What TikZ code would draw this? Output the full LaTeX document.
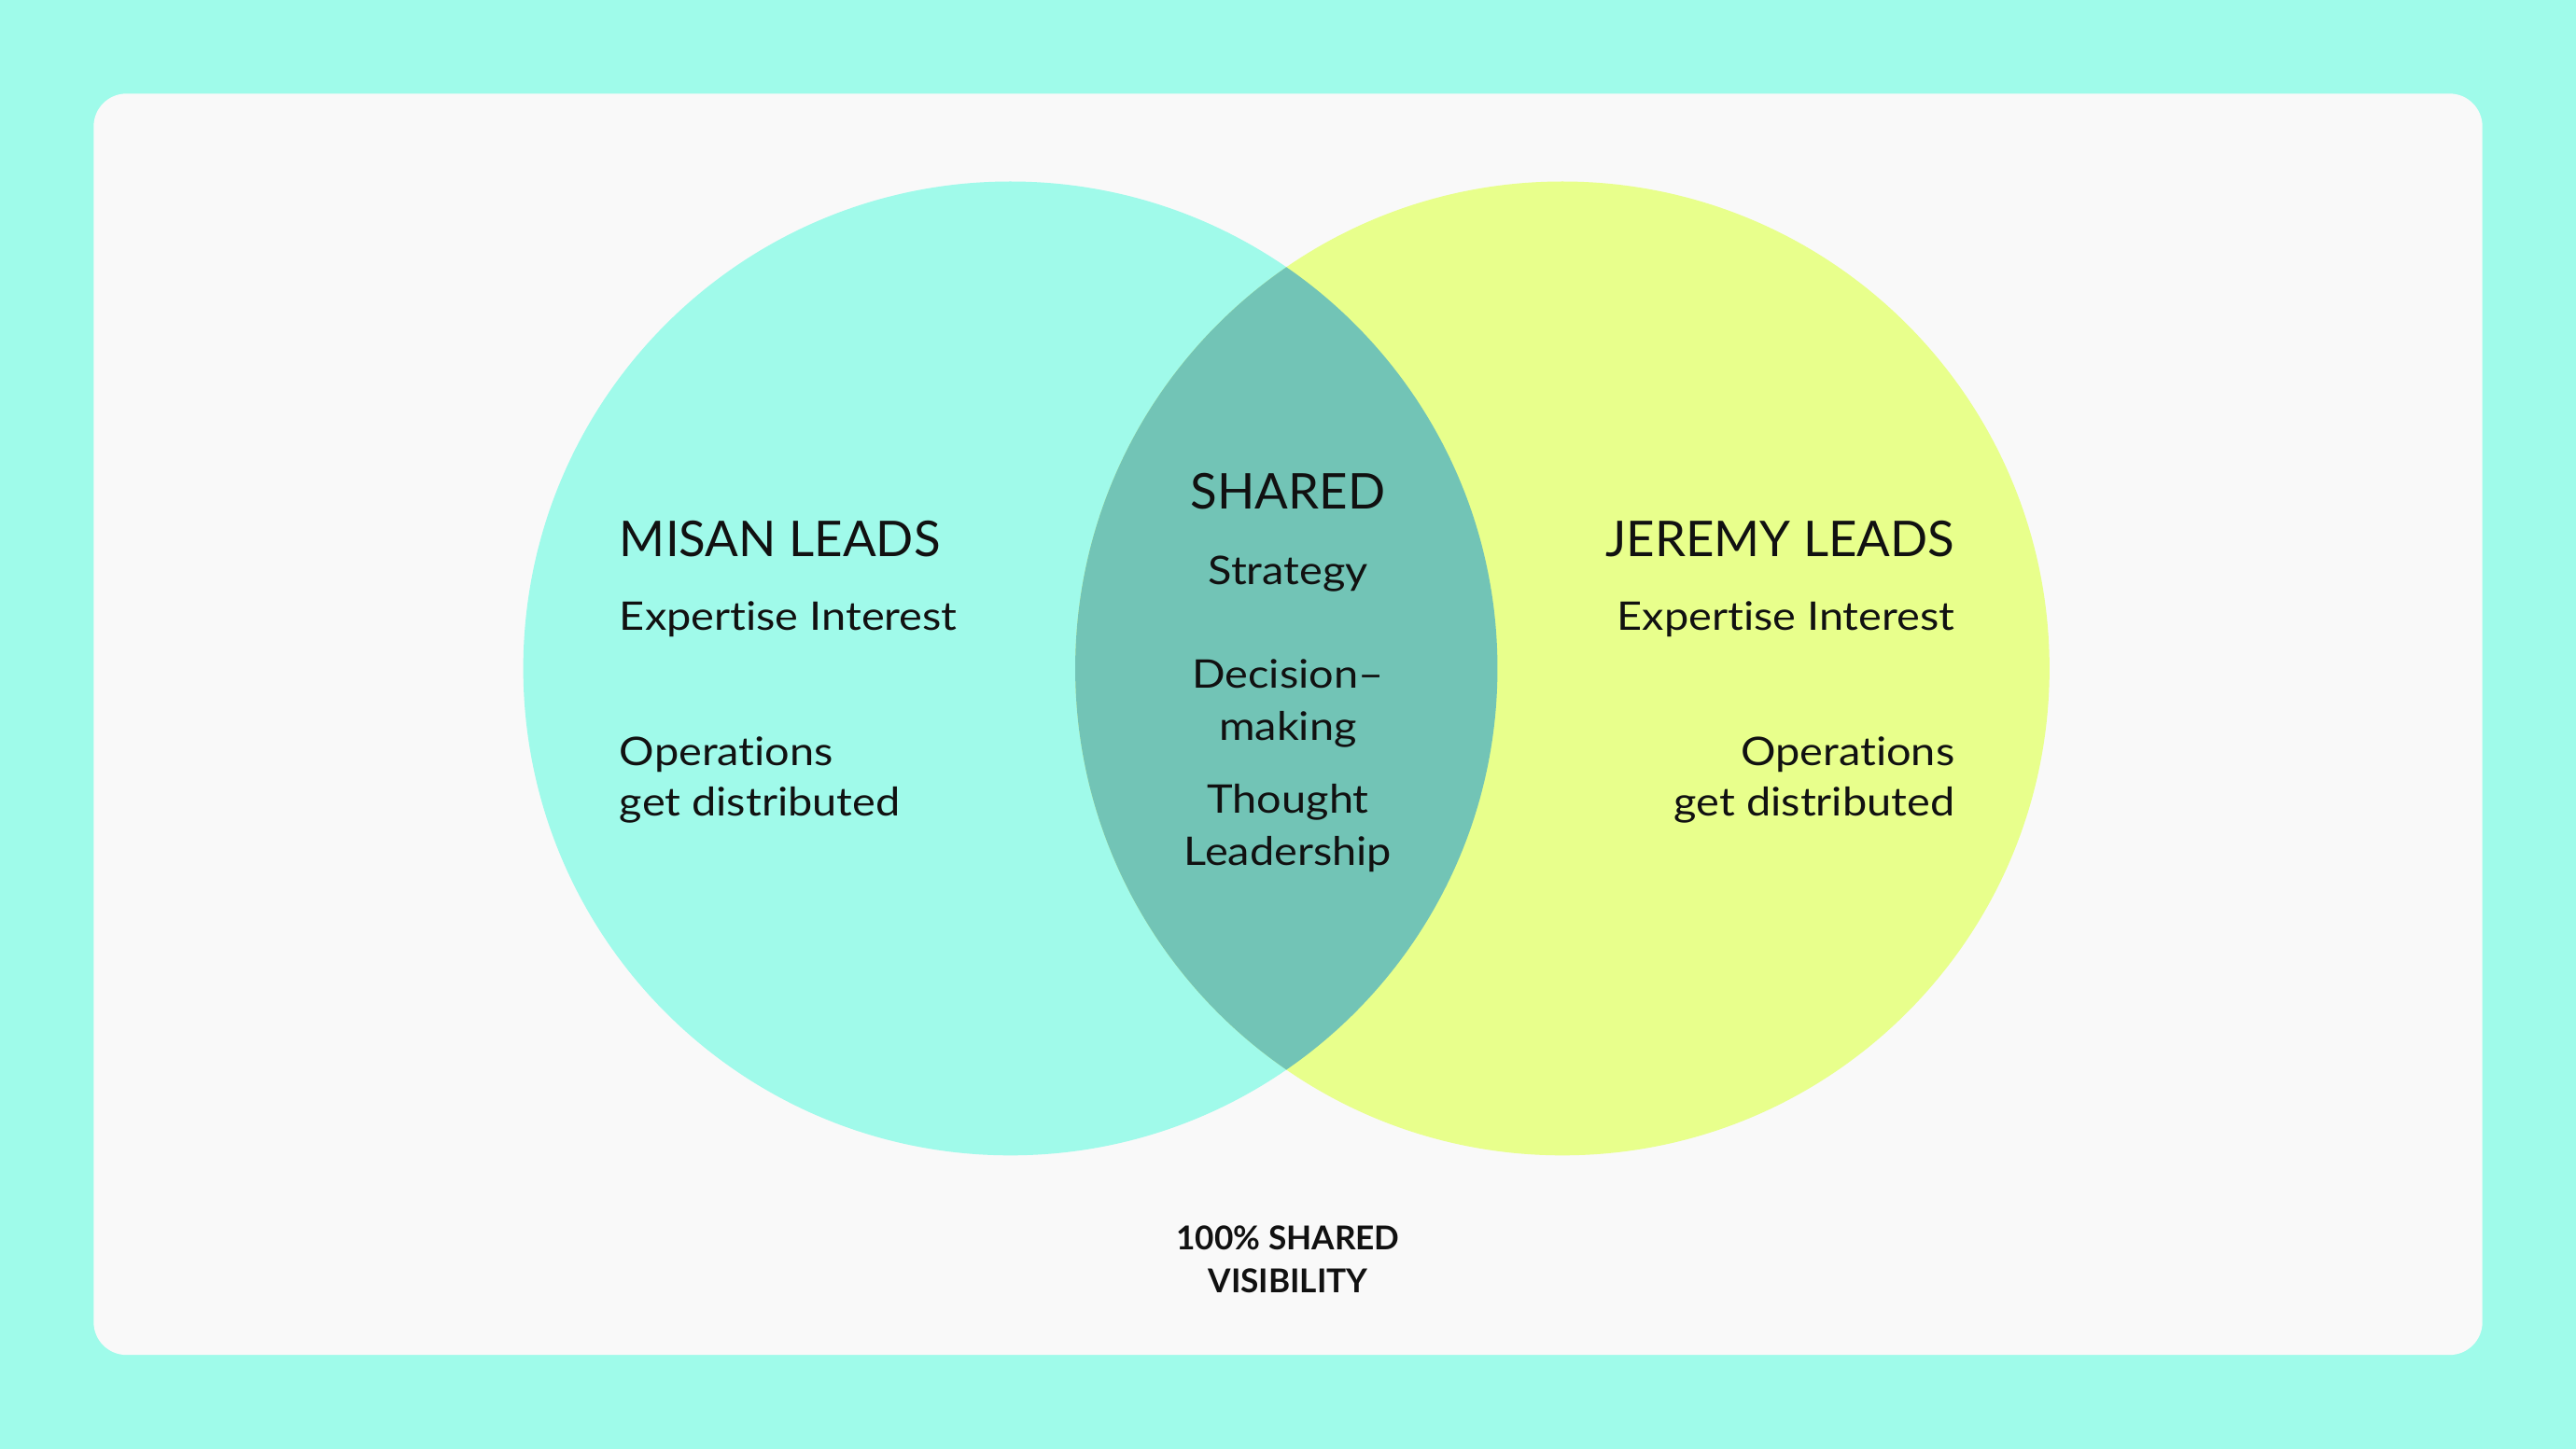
\documentclass[tikz,border=0pt]{standalone}
\usepackage{fontspec}
\setmainfont[Ligatures=NoCommon]{Lato}
\newfontfamily\bodyfont[FakeStretch=1.11,Ligatures=NoCommon]{Lato}
\definecolor{bgcyan}{HTML}{9FFBEA}
\definecolor{panel}{HTML}{F9F9F9}
\definecolor{lcirc}{HTML}{A0FAEA}
\definecolor{rcirc}{HTML}{E8FF8C}
\definecolor{lens}{HTML}{72C4B6}
\definecolor{ink}{HTML}{111111}
\begin{document}
\begin{tikzpicture}[x=1pt,y=-1pt,
  head/.style={inner sep=0pt,text=ink,font=\fontsize{30}{36}\selectfont},
  body/.style={inner sep=0pt,text=ink,font=\bodyfont\fontsize{24}{32}\selectfont},
  foot/.style={inner sep=0pt,text=ink,font=\bfseries\fontsize{20}{26}\selectfont}]
\useasboundingbox (0,0) rectangle (1568,882);
\fill[bgcyan] (0,0) rectangle (1568,882);
\fill[panel,rounded corners=20pt] (57,57) rectangle (1511,825);
\fill[lcirc] (615,407) circle[radius=296.5];
\fill[rcirc] (951,407) circle[radius=296.5];
\begin{scope}
  \clip (615,407) circle[radius=296.5];
  \fill[lens] (951,407) circle[radius=296.5];
\end{scope}
% left
\node[head,anchor=base west] (misan) at (377,339) {MISAN LEADS};
\node[body,anchor=base west] (lexp) at (377,384) {Expertise Interest};
\node[body,anchor=base west] (lops) at (377,466) {Operations};
\node[body,anchor=base west] (ldist) at (377,497) {get distributed};
% center
\node[head,anchor=base] (shared) at (784,310) {SHARED};
\node[body,anchor=base] (strat) at (784,356) {Strategy};
\node[body,anchor=base] (dec) at (784,419) {Decision–};
\node[body,anchor=base] (mak) at (784,451) {making};
\node[body,anchor=base] (tho) at (784,495) {Thought};
\node[body,anchor=base] (lead) at (784,527) {Leadership};
% right
\node[head,anchor=base east] (jeremy) at (1190,339) {JEREMY LEADS};
\node[body,anchor=base east] (rexp) at (1190,384) {Expertise Interest};
\node[body,anchor=base east] (rops) at (1190,466) {Operations};
\node[body,anchor=base east] (rdist) at (1190,497) {get distributed};
% footer
\node[foot,anchor=base] (f1) at (784,761) {100\% SHARED};
\node[foot,anchor=base] (f2) at (784,787) {VISIBILITY};
\end{tikzpicture}
\end{document}
